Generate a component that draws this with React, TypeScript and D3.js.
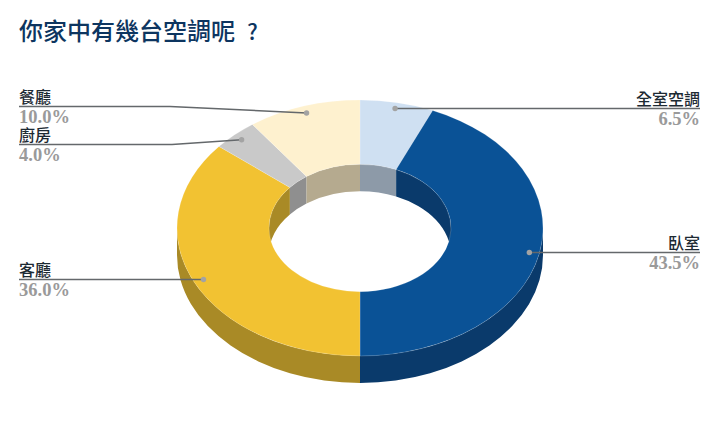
import * as d3 from 'd3';

const TITLE = '你家中有幾台空調呢';
const TITLE_MARK = '?';
const names = ['全室空調', '臥室', '客廳', '廚房', '餐廳'];
const values = [6.5, 43.5, 36.0, 4.0, 10.0];
const topColors = ['#cfe0f2', '#0a5296', '#f2c232', '#c9c9c9', '#fef1cf'];
const wallColors = ['#8d9aa8', '#0a3a6b', '#a98a26', '#8f8f8f', '#b5aa8f'];

// label layout, same order as names
const labelSide = ['right', 'right', 'left', 'left', 'left'];
const labelLineY = [108.5, 252.5, 279.5, 144.5, 106.5];
const labelElbowX = [null, null, null, 172, 170];

const W = 720;
const H = 444;
const CX = 360;
const CY = 228;
const RX = 183;
const RY = 128;
const DEPTH = 27;
const INNER = 91;
const DOT_RATIO = 0.945;
const LEFT_X = 19;
const RIGHT_X = 700;

const SQUASH = RY / RX;
const depthUnits = DEPTH / SQUASH;
const CJK = '"Noto Sans CJK TC", sans-serif';
const SERIF = '"Liberation Serif", serif';

const pie = d3.pie<number>().sort(null).value((d) => d);
const slices = pie(values);
const ring = d3.arc<d3.PieArcDatum<number>>().innerRadius(INNER).outerRadius(RX);

// wall between two angles (d3 pie angles, 0 at the top, clockwise)
function wallPath(r: number, a0: number, a1: number) {
  const p = d3.path();
  const s = a0 - Math.PI / 2;
  const e = a1 - Math.PI / 2;
  p.arc(0, 0, r, s, e);
  p.arc(0, depthUnits, r, e, s, true);
  p.closePath();
  return p.toString();
}

const HALF = Math.PI / 2;
const frontSpan: [number, number] = [HALF, 3 * HALF];
const backSpans: [number, number][] = [
  [0, HALF],
  [3 * HALF, 2 * Math.PI],
];

function clip(a0: number, a1: number, span: [number, number]) {
  const s = Math.max(a0, span[0]);
  const e = Math.min(a1, span[1]);
  return e > s ? [s, e] : null;
}

const leader = d3.line<[number, number]>();

export default function App() {
  return (
    <svg
      width={W}
      height={H}
      viewBox={`0 0 ${W} ${H}`}
      style={{ position: 'absolute', left: 0, top: 0, background: '#fff' }}
    >
      <text x={LEFT_X} y={40} fontFamily={CJK} fontWeight={500} fontSize={24} fill="#0d3560">
        {TITLE}
        <tspan x={247} fontSize={22}>
          {TITLE_MARK}
        </tspan>
      </text>

      <g transform={`translate(${CX},${CY}) scale(1,${SQUASH})`}>
        {/* inner walls (back half) */}
        {slices.map((d, i) =>
          backSpans.map((span, k) => {
            const c = clip(d.startAngle, d.endAngle, span);
            return c ? <path key={`${i}-${k}`} d={wallPath(INNER, c[0], c[1])} fill={wallColors[i]} /> : null;
          }),
        )}
        {/* outer walls (front half) */}
        {slices.map((d, i) => {
          const c = clip(d.startAngle, d.endAngle, frontSpan);
          return c ? <path key={i} d={wallPath(RX, c[0], c[1])} fill={wallColors[i]} /> : null;
        })}
        {/* top face */}
        {slices.map((d, i) => (
          <path key={i} d={ring(d) ?? ''} fill={topColors[i]} stroke="#ffffff" strokeOpacity={0.35} strokeWidth={0.6} />
        ))}
      </g>

      {/* leader lines, dots, labels */}
      {slices.map((d, i) => {
        const mid = (d.startAngle + d.endAngle) / 2;
        const dx = CX + DOT_RATIO * RX * Math.sin(mid);
        const dy = CY - DOT_RATIO * RY * Math.cos(mid);
        const isLeft = labelSide[i] === 'left';
        const y = labelLineY[i];
        const edge = isLeft ? LEFT_X : RIGHT_X;
        const elbow = labelElbowX[i];
        const pts: [number, number][] =
          elbow != null
            ? [
                [edge, y],
                [elbow, y],
                [dx, dy],
              ]
            : [
                [edge, y],
                [dx, y],
              ];
        const anchor = isLeft ? 'start' : 'end';
        return (
          <g key={names[i]}>
            <path d={leader(pts) ?? ''} fill="none" stroke="#64686b" strokeWidth={1.5} />
            <circle cx={dx} cy={elbow != null ? dy : y} r={2.7} fill="#a3a3a3" />
            <text x={edge} y={y - 3.5} textAnchor={anchor} fontFamily={CJK} fontWeight={500} fontSize={16} fill="#1d2a33">
              {names[i]}
            </text>
            <text x={edge} y={y + 16.5} textAnchor={anchor} fontFamily={SERIF} fontWeight={700} fontSize={18.5} fill="#9a9a9a">
              {values[i].toFixed(1)}%
            </text>
          </g>
        );
      })}
    </svg>
  );
}
